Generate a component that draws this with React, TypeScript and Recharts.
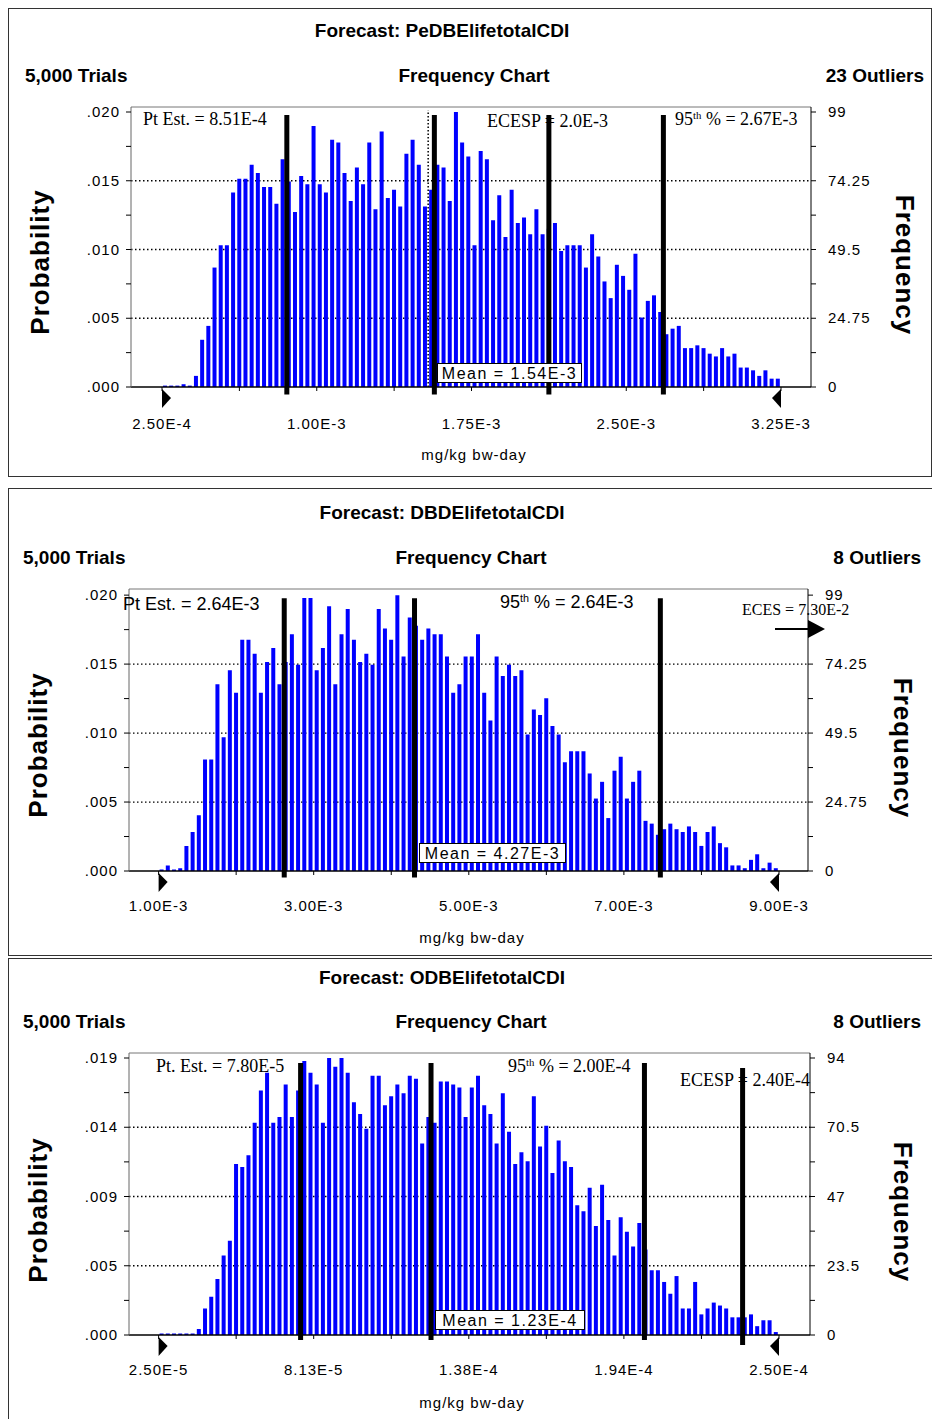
import React from 'react';
import { ComposedChart, Bar, XAxis, YAxis, CartesianGrid, ReferenceLine, ReferenceDot } from 'recharts';

const SANS = "'Liberation Sans', Arial, Helvetica, sans-serif";
const SERIF = "'Liberation Serif', 'Times New Roman', serif";
const BLUE = '#0000ff';

// Forecast: PeDBElifetotalCDI  (100 bins, frequency out of 5,000 trials)
const peRange = [2.5e-4, 3.25e-3];
const peCounts = [
  0.5, 0.5, 0.5, 1, 0.5, 4, 17, 22, 43, 51, 51, 70, 75, 75, 80, 77, 72, 72, 66, 82, 74, 63, 76, 73, 94, 73, 70, 89, 88, 77, 67, 79,
  73, 88, 64, 92, 68, 71, 65, 84, 89, 80, 65, 71, 80, 79, 67, 99, 88, 83, 51, 85, 82, 60, 69, 54, 71, 59, 61, 55, 64, 55, 57, 59, 49, 51, 51, 51, 43,
  55, 47, 38, 32, 44, 40, 35, 48, 25, 31, 33, 27, 19, 21, 22, 14, 14, 15, 14, 12, 11, 14, 11, 12, 7, 7, 6, 4, 6, 3, 3,
];
const peXLabels = ['2.50E-4', '1.00E-3', '1.75E-3', '2.50E-3', '3.25E-3'];
const peProbLabels = ['.000', '.005', '.010', '.015', '.020'];
const peFreqLabels = ['0', '24.75', '49.5', '74.25', '99'];
const peLines = [8.55e-4, 1.57e-3, 2.125e-3, 2.68e-3];
const peMean = 1.54e-3;

// Forecast: DBDElifetotalCDI
const dbdRange = [1e-3, 9e-3];
const dbdCounts = [
  0.5, 2, 0.5, 1, 9, 14, 20, 40, 40, 67, 48, 72, 64, 83, 83, 78, 64, 75, 80, 67, 75, 85, 74, 98, 98, 72, 80, 95, 67, 85, 94, 83,
  75, 78, 74, 94, 87, 83, 99, 77, 91, 88, 83, 87, 85, 85, 77, 64, 67, 77, 77, 85, 64, 54, 77, 70, 74, 70, 72, 49, 58, 56, 62, 52, 49, 39, 43, 43, 43,
  35, 26, 32, 19, 36, 41, 26, 32, 36, 18, 17, 13, 15, 17, 15, 14, 16, 14, 9, 14, 16, 10, 8.5, 2, 2, 1, 4, 6, 1, 3, 1,
];
const dbdXLabels = ['1.00E-3', '3.00E-3', '5.00E-3', '7.00E-3', '9.00E-3'];
const dbdProbLabels = ['.000', '.005', '.010', '.015', '.020'];
const dbdFreqLabels = ['0', '24.75', '49.5', '74.25', '99'];
const dbdLines = [2.62e-3, 4.3e-3, 7.47e-3];

// Forecast: ODBElifetotalCDI
const odbRange = [2.5e-5, 2.5e-4];
const odbCounts = [
  0.5, 0.5, 0.5, 0.5, 0.5, 0.5, 2, 9, 13, 19, 27, 32, 58, 57, 61, 72, 83, 89, 72, 74, 85, 74, 83, 93, 89, 85, 72, 94, 91, 94, 89, 79,
  75, 70, 88, 88, 78, 81, 85, 82, 88, 87, 65, 74, 72, 86, 86, 85, 84, 74, 84, 88, 78, 75, 65, 82, 69, 58, 62, 59, 81, 64, 71, 55, 66, 59, 57, 44, 42,
  50, 37, 51, 39, 27, 40, 35, 30, 38, 29, 22, 22, 18, 14, 20, 9, 9, 18, 7, 9, 11, 10, 9, 6, 6, 6, 7, 3, 5, 5, 1,
];
const odbXLabels = ['2.50E-5', '8.13E-5', '1.38E-4', '1.94E-4', '2.50E-4'];
const odbProbLabels = ['.000', '.005', '.009', '.014', '.019'];
const odbFreqLabels = ['0', '23.5', '47', '70.5', '94'];
const odbLines = [7.65e-5, 1.238e-4, 2.012e-4];
const odbEcesp = 2.368e-4;

type Marker = { x: number; top: number; bottom: number; dotted?: boolean };

interface HistProps {
  counts: number[];
  range: number[];
  yTop: number;
  yMax: number;
  xLabels: string[];
  probLabels: string[];
  freqLabels: string[];
  markers: Marker[];
  plot: { left: number; right: number; top: number; bottom: number };
  axisPx: [number, number];
  labelDy: number;
}

const tickText = { fontFamily: SANS, fontSize: 15, letterSpacing: 1, fill: '#000' };

function Histogram({ counts, range, yTop, yMax, xLabels, probLabels, freqLabels, markers, plot, axisPx, labelDy }: HistProps) {
  const [lo, hi] = range;
  const binW = (hi - lo) / counts.length;
  const data = counts.map((count, i) => ({ x: lo + (i + 0.5) * binW, count }));
  const xTicks = Array.from({ length: 9 }, (_, k) => lo + (k * (hi - lo)) / 8);
  const yTicks = Array.from({ length: 9 }, (_, k) => (k * yTop) / 8);
  const width = plot.right - plot.left + 140;
  const height = plot.bottom - plot.top + 60;

  return (
    <div style={{ position: 'absolute', left: plot.left - 70, top: plot.top - 10 }}>
      <ComposedChart width={width} height={height} data={data} margin={{ top: 10, right: 0, bottom: 0, left: 0 }}>
        <CartesianGrid
          vertical={false}
          horizontalValues={[yTop / 4, yTop / 2, (3 * yTop) / 4]}
          stroke="#000"
          strokeWidth={1.3}
          strokeDasharray="1.5 2.5"
        />
        <XAxis
          type="number"
          dataKey="x"
          domain={[lo, hi]}
          ticks={xTicks}
          interval={0}
          allowDataOverflow
          padding={{ left: axisPx[0] - plot.left, right: plot.right - axisPx[1] }}
          height={50}
          tickSize={4}
          axisLine={{ stroke: '#000', strokeWidth: 1.5 }}
          tickLine={{ stroke: '#000' }}
          tick={(p: any) =>
            p.index % 2 === 0 ? (
              <text x={p.x} y={p.y + labelDy} textAnchor="middle" style={tickText}>
                {xLabels[p.index / 2]}
              </text>
            ) : (
              <g />
            )
          }
        />
        <YAxis
          domain={[0, yMax]}
          ticks={yTicks}
          interval={0}
          allowDataOverflow
          width={70}
          tickSize={5}
          tickMargin={6}
          axisLine={{ stroke: '#666' }}
          tickLine={{ stroke: '#000' }}
          tick={(p: any) =>
            p.index % 2 === 0 ? (
              <text x={p.x} y={p.y + 5} textAnchor="end" style={tickText}>
                {probLabels[p.index / 2]}
              </text>
            ) : (
              <g />
            )
          }
        />
        <YAxis
          yAxisId="r"
          orientation="right"
          domain={[0, yMax]}
          ticks={yTicks}
          interval={0}
          allowDataOverflow
          width={70}
          tickSize={5}
          tickMargin={12}
          axisLine={{ stroke: '#000' }}
          tickLine={{ stroke: '#000' }}
          tick={(p: any) =>
            p.index % 2 === 0 ? (
              <text x={p.x} y={p.y + 5} textAnchor="start" style={tickText}>
                {freqLabels[p.index / 2]}
              </text>
            ) : (
              <g />
            )
          }
        />
        <ReferenceLine y={yMax} stroke="#777" ifOverflow="visible" />
        <Bar dataKey="count" fill={BLUE} barSize={4} isAnimationActive={false} />
        {markers.map((m, i) => (
          <ReferenceLine
            key={i}
            segment={[
              { x: m.x, y: m.bottom },
              { x: m.x, y: m.top },
            ]}
            stroke="#000"
            strokeWidth={m.dotted ? 1.5 : 5}
            strokeDasharray={m.dotted ? '1.5 2' : undefined}
            ifOverflow="visible"
          />
        ))}
        <ReferenceDot
          x={lo}
          y={0}
          ifOverflow="visible"
          shape={(p: any) => <polygon points={`${p.cx},${p.cy + 2} ${p.cx + 9},${p.cy + 11} ${p.cx},${p.cy + 21}`} fill="#000" />}
        />
        <ReferenceDot
          x={hi}
          y={0}
          ifOverflow="visible"
          shape={(p: any) => <polygon points={`${p.cx},${p.cy + 2} ${p.cx - 9},${p.cy + 11} ${p.cx},${p.cy + 21}`} fill="#000" />}
        />
      </ComposedChart>
    </div>
  );
}

function Txt({ x, y, children, anchor = 'start', font = SANS, size = 15, weight = 400, spacing = 0 }: any) {
  const tx = anchor === 'middle' ? '-50%' : anchor === 'end' ? '-100%' : '0';
  return (
    <div
      style={{
        position: 'absolute',
        left: x,
        top: y,
        transform: `translate(${tx}, -50%)`,
        fontFamily: font,
        fontSize: size,
        fontWeight: weight,
        letterSpacing: spacing,
        whiteSpace: 'nowrap',
        lineHeight: 1,
        color: '#000',
      }}
    >
      {children}
    </div>
  );
}

function Rotated({ x, y, angle, children }: any) {
  return (
    <div
      style={{
        position: 'absolute',
        left: x,
        top: y,
        transform: `translate(-50%, -50%) rotate(${angle}deg)`,
        fontFamily: SANS,
        fontSize: 26,
        fontWeight: 700,
        letterSpacing: 1,
        whiteSpace: 'nowrap',
        lineHeight: 1,
      }}
    >
      {children}
    </div>
  );
}

function Header({ title, outliers, titleY, rowY, trialsX, chartX, outRight, probPos, freqPos, unitPos }: any) {
  return (
    <>
      <Txt x={442} y={titleY} anchor="middle" size={19} weight={700}>{title}</Txt>
      <Txt x={trialsX} y={rowY} size={19} weight={700}>5,000 Trials</Txt>
      <Txt x={chartX} y={rowY} anchor="middle" size={19} weight={700}>Frequency Chart</Txt>
      <Txt x={outRight} y={rowY} anchor="end" size={19} weight={700}>{outliers}</Txt>
      <Rotated x={probPos[0]} y={probPos[1]} angle={-90}>Probability</Rotated>
      <Rotated x={freqPos[0]} y={freqPos[1]} angle={90}>Frequency</Rotated>
      <Txt x={unitPos[0]} y={unitPos[1]} anchor="middle" size={15} spacing={1}>mg/kg bw-day</Txt>
    </>
  );
}

function MeanBox({ left, top, width, children }: any) {
  return (
    <div
      style={{
        position: 'absolute',
        left,
        top,
        width,
        height: 20,
        boxSizing: 'border-box',
        border: '1px solid #000',
        background: '#fff',
        fontFamily: SANS,
        fontSize: 16,
        letterSpacing: 1.5,
        lineHeight: '19px',
        textAlign: 'center',
        whiteSpace: 'nowrap',
      }}
    >
      {children}
    </div>
  );
}

function Frame({ top, height, right }: any) {
  return (
    <div
      style={{
        position: 'absolute',
        left: 8,
        top,
        width: right - 8,
        height,
        boxSizing: 'border-box',
        border: '1px solid #333',
      }}
    />
  );
}

const Ninety = ({ value }: { value: string }) => (
  <>
    95<sup style={{ fontSize: '0.6em', verticalAlign: '0.55em', lineHeight: 0 }}>th</sup> % = {value}
  </>
);

export default function App() {
  return (
    <div style={{ position: 'absolute', left: 0, top: 0, width: 932, height: 1419, background: '#fff', overflow: 'hidden' }}>
      <Frame top={8} height={469} right={932} />
      <Frame top={488} height={468} right={945} />
      <Frame top={958} height={480} right={945} />

      {/* Panel 1 */}
      <Histogram
        counts={peCounts}
        range={peRange}
        yTop={99}
        yMax={100.8}
        xLabels={peXLabels}
        probLabels={peProbLabels}
        freqLabels={peFreqLabels}
        markers={[
          ...peLines.map((x) => ({ x, top: 97.9, bottom: -2.7 })),
          { x: peMean, top: 99.6, bottom: 0, dotted: true },
        ]}
        plot={{ left: 131, right: 811, top: 107, bottom: 387 }}
        axisPx={[162, 781]}
        labelDy={36}
      />
      <Header
        title="Forecast: PeDBElifetotalCDI"
        outliers="23 Outliers"
        titleY={30}
        rowY={75}
        trialsX={25}
        chartX={474}
        outRight={924}
        probPos={[40, 262]}
        freqPos={[905, 265]}
        unitPos={[474, 454]}
      />
      <Txt x={143} y={119} font={SERIF} size={18}>Pt Est. = 8.51E-4</Txt>
      <Txt x={487} y={121} font={SERIF} size={18}>ECESP = 2.0E-3</Txt>
      <Txt x={675} y={119} font={SERIF} size={18}><Ninety value="2.67E-3" /></Txt>
      <MeanBox left={437} top={363} width={145}>Mean = 1.54E-3</MeanBox>

      {/* Panel 2 */}
      <Histogram
        counts={dbdCounts}
        range={dbdRange}
        yTop={99}
        yMax={101.2}
        xLabels={dbdXLabels}
        probLabels={dbdProbLabels}
        freqLabels={dbdFreqLabels}
        markers={dbdLines.map((x) => ({ x, top: 97.9, bottom: -2.3 }))}
        plot={{ left: 129, right: 808, top: 589, bottom: 871 }}
        axisPx={[158.6, 779]}
        labelDy={34}
      />
      <Header
        title="Forecast: DBDElifetotalCDI"
        outliers="8 Outliers"
        titleY={512}
        rowY={557}
        trialsX={23}
        chartX={471}
        outRight={921}
        probPos={[38, 745]}
        freqPos={[903, 748]}
        unitPos={[472, 937]}
      />
      <Txt x={123} y={604} size={18}>Pt Est. = 2.64E-3</Txt>
      <Txt x={500} y={602} size={18}><Ninety value="2.64E-3" /></Txt>
      <Txt x={742} y={610} font={SERIF} size={16}>ECES = 7.30E-2</Txt>
      <svg style={{ position: 'absolute', left: 770, top: 615 }} width={60} height={30}>
        <line x1={5} y1={14} x2={40} y2={14} stroke="#000" strokeWidth={2} />
        <polygon points="38,5 55,14 38,23" fill="#000" />
      </svg>
      <MeanBox left={419} top={843} width={147}>Mean = 4.27E-3</MeanBox>

      {/* Panel 3 */}
      <Histogram
        counts={odbCounts}
        range={odbRange}
        yTop={94}
        yMax={95.7}
        xLabels={odbXLabels}
        probLabels={odbProbLabels}
        freqLabels={odbFreqLabels}
        markers={[
          ...odbLines.map((x) => ({ x, top: 92.3, bottom: -1.7 })),
          { x: odbEcesp, top: 90.6, bottom: -3.4 },
        ]}
        plot={{ left: 129, right: 810, top: 1053, bottom: 1335 }}
        axisPx={[158.6, 779]}
        labelDy={34}
      />
      <Header
        title="Forecast: ODBElifetotalCDI"
        outliers="8 Outliers"
        titleY={977}
        rowY={1021}
        trialsX={23}
        chartX={471}
        outRight={921}
        probPos={[38, 1210]}
        freqPos={[903, 1212]}
        unitPos={[472, 1402]}
      />
      <Txt x={156} y={1066} font={SERIF} size={18}>Pt. Est. = 7.80E-5</Txt>
      <Txt x={508} y={1066} font={SERIF} size={18}><Ninety value="2.00E-4" /></Txt>
      <Txt x={680} y={1080} font={SERIF} size={18}>ECESP = 2.40E-4</Txt>
      <MeanBox left={435} top={1310} width={150}>Mean = 1.23E-4</MeanBox>
    </div>
  );
}
